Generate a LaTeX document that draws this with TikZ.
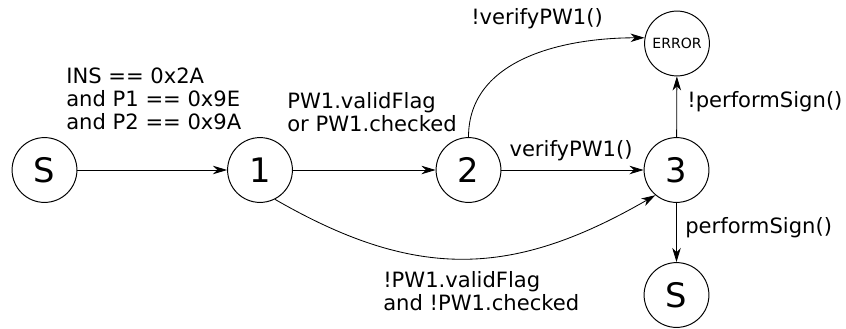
\documentclass[tikz,border=0pt]{standalone}
\usepackage{fontspec}
\setmainfont{DejaVu Sans}
\usepackage{tikz}
\usetikzlibrary{arrows.meta}
\usetikzlibrary{positioning}

\tikzset{
	state/.style={draw, circle, line width=0.7pt, minimum size=1.62cm, inner sep=0pt, font=\fontsize{24}{28}\selectfont},
	trans/.style={line width=0.6pt, -{Stealth[length=10pt,width=6pt,inset=3pt]}},
	cond/.style={align=left, inner sep=0pt, font=\fontsize{15}{16.3}\selectfont}
}

\begin{document}
\begin{tikzpicture}[x=0.025cm, y=-0.025cm]
		\useasboundingbox (0,0) rectangle (846,328);

		\node [state] (start) at (44.5,170) {S}; %start
		\node [state] (one) at (260,170) {1};
		\node [state] (two) at (468.5,170) {2};
		\node [state] (three) at (676.5,170) {3};
		\node [state, font=\fontsize{10}{12}\selectfont] (err) at (677,43.5) {ERROR};
		\node [state] (fin) at (676.5,295) {S}; %end

		\draw [trans] (start) -- (one);
		\draw [trans] (one) -- (two);
		\draw [trans] (two) -- (three);
		\draw [trans] (two) to[out=90, in=180] (err.170);
		\draw [trans] (three) -- (err);
		\draw [trans] (three) -- (fin);
		\draw [trans] (one.-63) to[out=-30, in=-150, looseness=1.1] (three.-130);

		\node [cond, anchor=west] (insCond) at (66,99) {INS == 0x2A\\and P1 == 0x9E\\and P2 == 0x9A};
		\node [cond, anchor=west] (pwCond) at (287,112.5) {PW1.validFlag\\or PW1.checked};
		\node [cond] (verCond) at (571,151) {verifyPW1()};
		\node [cond] (notVerCond) at (537,19) {!verifyPW1()};
		\node [cond, anchor=west] (notSignCond) at (687,102) {!performSign()};
		\node [cond, anchor=west] (signCond) at (685,228) {performSign()};
		\node [cond, anchor=west] (notPwCond) at (383,291) {!PW1.validFlag\\and !PW1.checked};
	\end{tikzpicture}
\end{document}
